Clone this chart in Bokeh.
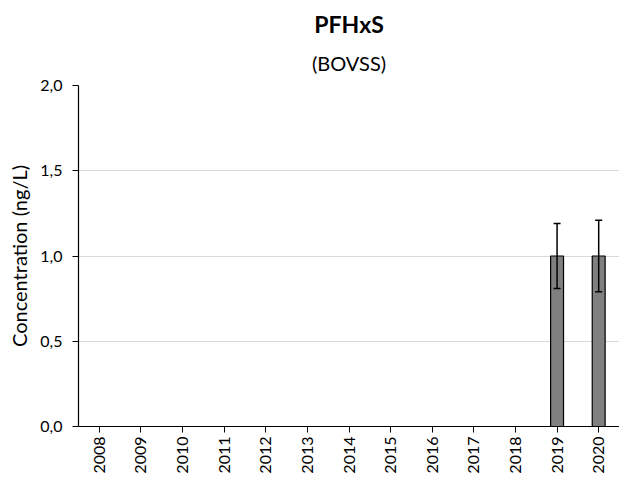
import math
from bokeh.plotting import figure
from bokeh.models import (FactorRange, Range1d, FixedTicker, Whisker, TeeHead,
                          ColumnDataSource, Title)
from bokeh.embed import file_html
from bokeh.resources import INLINE

years = ["2008", "2009", "2010", "2011", "2012", "2013", "2014",
         "2015", "2016", "2017", "2018", "2019", "2020"]
bar_years = ["2019", "2020"]
bar_values = [1.0, 1.0]
err_lower = [0.81, 0.79]
err_upper = [1.19, 1.21]
y_ticks = [0, 0.5, 1.0, 1.5, 2.0]
y_tick_labels = ["0,0", "0,5", "1,0", "1,5", "2,0"]
title_text = "PFHxS"
subtitle_text = "(BOVSS)"

FONT = "Lato"

p = figure(width=619, height=479, output_backend="svg", toolbar_location=None,
           x_range=FactorRange(*years, range_padding=0),
           y_range=Range1d(0, 2.0),
           min_border_left=78, min_border_right=0, min_border_top=85,
           min_border_bottom=53)

p.add_layout(Title(text=subtitle_text, align="center", text_font=FONT,
                   text_font_size="20px", text_font_style="normal",
                   text_color="black", standoff=22), "above")
p.add_layout(Title(text=title_text, align="center", text_font=FONT,
                   text_font_size="23px", text_font_style="bold",
                   text_color="black", standoff=0), "above")

src = ColumnDataSource(dict(x=bar_years, top=bar_values,
                            lower=err_lower, upper=err_upper))
p.vbar(x="x", top="top", width=0.31, source=src,
       fill_color="#808080", line_color="black", line_width=1.2)

w = Whisker(base="x", lower="lower", upper="upper", source=src,
            line_color="black", line_width=1.5, level="overlay",
            upper_head=TeeHead(size=7, line_color="black", line_width=1.5),
            lower_head=TeeHead(size=7, line_color="black", line_width=1.5))
p.add_layout(w)

p.outline_line_color = None
p.xgrid.grid_line_color = None
p.ygrid.ticker = FixedTicker(ticks=[0.5, 1.0, 1.5])
p.ygrid.grid_line_color = "#d9d9d9"
p.ygrid.grid_line_width = 1

p.yaxis.ticker = FixedTicker(ticks=y_ticks)
p.yaxis.major_label_overrides = {t: l for t, l in zip(y_ticks, y_tick_labels)}
p.yaxis.minor_tick_line_color = None
p.yaxis.major_tick_in = 0
p.yaxis.major_tick_out = 6
p.yaxis.major_label_text_font_size = "16px"
p.yaxis.major_label_standoff = 10
p.yaxis.axis_label = "Concentration (ng/L)"
p.yaxis.axis_label_text_font = FONT
p.yaxis.axis_label_text_font_size = "20px"
p.yaxis.axis_label_text_font_style = "normal"
p.yaxis.axis_label_standoff = 6

p.xaxis.major_label_orientation = math.pi / 2
p.xaxis.major_tick_in = 0
p.xaxis.major_tick_out = 6
p.xaxis.major_label_text_font_size = "16px"
p.xaxis.major_label_standoff = 4

for ax in (p.xaxis, p.yaxis):
    ax.axis_line_color = "black"
    ax.axis_line_width = 1.2
    ax.major_tick_line_color = "black"
    ax.major_label_text_font = FONT
    ax.major_label_text_color = "black"
    ax.axis_label_text_color = "black"

open("out.html", "w").write(file_html(p, INLINE))
